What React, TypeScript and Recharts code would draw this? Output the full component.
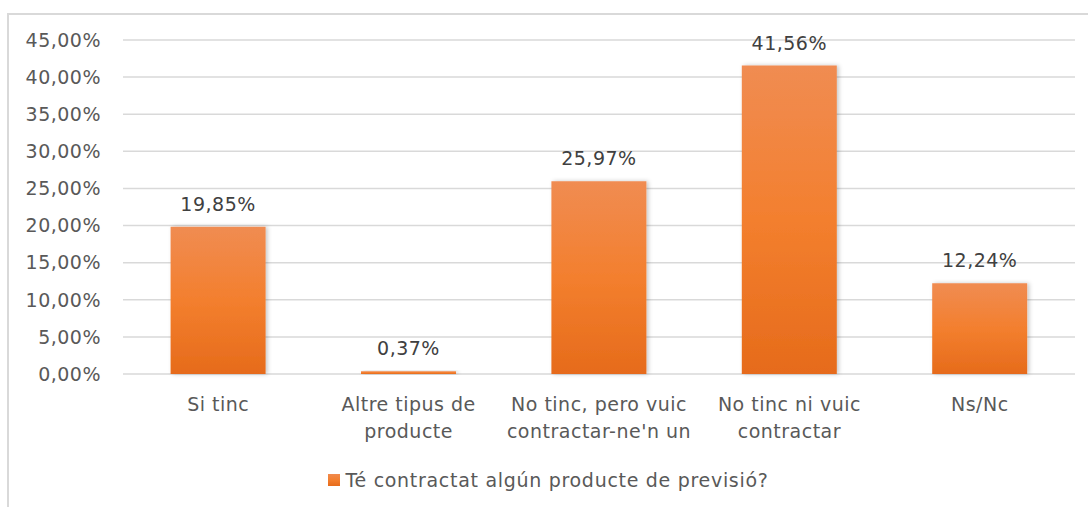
import { Bar, BarChart, CartesianGrid, LabelList, Legend, XAxis, YAxis } from 'recharts'

const CATEGORIES = [
  'Si tinc',
  'Altre tipus de\nproducte',
  'No tinc, pero vuic\ncontractar-ne\'n un',
  'No tinc ni vuic\ncontractar',
  'Ns/Nc',
]
const VALUES = [19.85, 0.37, 25.97, 41.56, 12.24]
const Y_TICKS = [0, 5, 10, 15, 20, 25, 30, 35, 40, 45]
const SERIES_NAME = 'Té contractat algún producte de previsió?'

const FONT = '"DejaVu Sans", sans-serif'
const FONT_SIZE = 19
const SPACING = 0.5
const AXIS_TEXT = '#595959'
const LABEL_TEXT = '#404040'
const GRID = '#d9d9d9'

const data = CATEGORIES.map((name, i) => ({ name, value: VALUES[i] }))

const pct = (v: number) => `${v.toFixed(2).replace('.', ',')}%`

function CategoryTick({ x, y, payload }: any) {
  const lines = String(payload.value).split('\n')
  return (
    <text
      x={x}
      y={y}
      textAnchor="middle"
      fill={AXIS_TEXT}
      fontSize={FONT_SIZE}
      fontFamily={FONT}
      letterSpacing={SPACING}
    >
      {lines.map((line, i) => (
        <tspan key={i} x={x} dy={i === 0 ? 29 : 27}>
          {line}
        </tspan>
      ))}
    </text>
  )
}

function LegendContent() {
  return (
    <div
      style={{
        display: 'flex',
        justifyContent: 'center',
        alignItems: 'center',
        paddingLeft: 22,
        fontFamily: FONT,
        fontSize: FONT_SIZE,
        letterSpacing: SPACING + 0.2,
        color: AXIS_TEXT,
      }}
    >
      <span
        style={{
          width: 12,
          height: 12,
          marginRight: 5,
          background: 'linear-gradient(#F08A4E, #F37F2E 50%, #E66B1B)',
        }}
      />
      {SERIES_NAME}
    </div>
  )
}

export default function App() {
  return (
    <div
      style={{
        position: 'fixed',
        left: 0,
        top: 0,
        width: 1088,
        height: 507,
        background: '#fff',
        overflow: 'hidden',
      }}
    >
      <div
        style={{
          position: 'absolute',
          left: 7,
          top: 13,
          width: 1200,
          height: 600,
          border: `2px solid ${GRID}`,
        }}
      />
      <div style={{ position: 'absolute', left: 0, top: 0 }}>
        <BarChart
          width={1088}
          height={507}
          data={data}
          barCategoryGap="25%"
          margin={{ top: 40, right: 13, bottom: 63, left: 0 }}
        >
          <defs>
            <linearGradient id="barFill" x1="0" y1="0" x2="0" y2="1">
              <stop offset="0%" stopColor="#F08C52" />
              <stop offset="50%" stopColor="#F37F2E" />
              <stop offset="100%" stopColor="#E66B1B" />
            </linearGradient>
            <filter id="barShadow" x="-10%" y="-10%" width="130%" height="120%">
              <feDropShadow dx="2" dy="0" stdDeviation="2" floodColor="#000" floodOpacity="0.22" />
            </filter>
          </defs>
          <CartesianGrid stroke={GRID} strokeWidth={1.5} vertical={false} />
          <XAxis
            dataKey="name"
            axisLine={false}
            tickLine={false}
            interval={0}
            tick={<CategoryTick />}
          />
          <YAxis
            width={123}
            domain={[0, 45]}
            ticks={Y_TICKS}
            axisLine={false}
            tickLine={false}
            tickMargin={16}
            tickFormatter={pct}
            tick={{
              fill: AXIS_TEXT,
              fontSize: FONT_SIZE,
              fontFamily: FONT,
              letterSpacing: SPACING,
            }}
          />
          <Legend
            verticalAlign="bottom"
            height={40}
            content={<LegendContent />}
            wrapperStyle={{ top: 469, bottom: 'auto' }}
          />
          <Bar
            dataKey="value"
            name={SERIES_NAME}
            fill="url(#barFill)"
            filter="url(#barShadow)"
            isAnimationActive={false}
          >
            <LabelList
              dataKey="value"
              position="top"
              offset={16}
              formatter={(v: any) => pct(Number(v))}
              fill={LABEL_TEXT}
              fontSize={FONT_SIZE}
              fontFamily={FONT}
              letterSpacing={SPACING}
            />
          </Bar>
        </BarChart>
      </div>
    </div>
  )
}
